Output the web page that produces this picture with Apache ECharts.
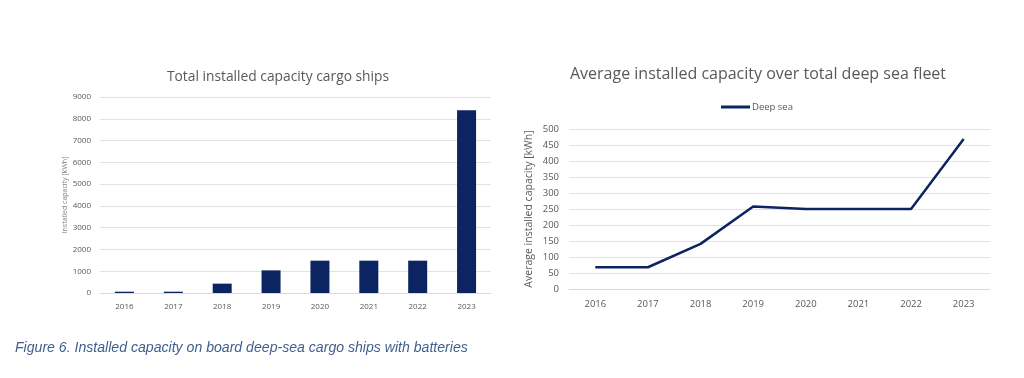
<!DOCTYPE html>
<html><head><meta charset="utf-8">
<script src="https://cdn.jsdelivr.net/npm/echarts@6/dist/echarts.min.js"></script>
<style>html,body{margin:0;padding:0;background:#fff}#c{width:1024px;height:378px}</style>
</head><body><div id="c"></div>
<script>
const years = ['2016','2017','2018','2019','2020','2021','2022','2023'];
const totalCapacity = [60, 60, 430, 1040, 1485, 1485, 1485, 8390];
const avgCapacity = [68, 68, 141, 258, 250, 250, 250, 469];
const leftTitle = 'Total installed capacity cargo ships';
const rightTitle = 'Average installed capacity over total deep sea fleet';
const caption = 'Figure 6. Installed capacity on board deep-sea cargo ships with batteries';
const navy = '#0c2461';
const grey = '#595959';
const chart = echarts.init(document.getElementById('c'), null, {renderer:'canvas'});
chart.setOption({
  animation:false,
  title:[
    {text:leftTitle, left:273, top:65, textAlign:'center', textStyle:{fontFamily:'Open Sans', fontSize:13.8, fontWeight:'normal', color:grey}},
    {text:rightTitle, left:753, top:61, textAlign:'center', textStyle:{fontFamily:'Open Sans', fontSize:16, fontWeight:'normal', color:grey}},
    {text:caption, left:10, top:336, textStyle:{fontFamily:'Liberation Sans', fontSize:14.1, fontStyle:'italic', fontWeight:'normal', color:'#3f5f8f'}}
  ],
  legend:{data:['Deep sea'], left:716, top:97, itemWidth:29, itemHeight:3, itemGap:0, icon:'rect',
    textStyle:{fontFamily:'Open Sans', fontSize:9.5, color:grey, padding:[0,0,0,-3]}},
  grid:[
    {left:100, top:97, width:391, height:196},
    {left:569, top:129, width:421, height:160}
  ],
  xAxis:[
    {type:'category', gridIndex:0, data:years, axisTick:{show:false}, axisLine:{lineStyle:{color:'#d9d9d9'}},
     axisLabel:{fontFamily:'Open Sans', fontSize:8, color:grey, margin:10}},
    {type:'category', gridIndex:1, data:years, axisTick:{show:false}, axisLine:{lineStyle:{color:'#d9d9d9'}},
     axisLabel:{fontFamily:'Open Sans', fontSize:9.5, color:grey, margin:10}}
  ],
  yAxis:[
    {type:'value', gridIndex:0, min:0, max:9000, interval:1000, axisLine:{show:false}, axisTick:{show:false},
     splitLine:{lineStyle:{color:'#e3e3e3'}}, axisLabel:{fontFamily:'Open Sans', fontSize:8, color:grey, margin:9, formatter:v=>String(v)},
     name:'Installed capacity [kWh]', nameLocation:'middle', nameGap:31, nameRotate:90,
     nameTextStyle:{fontFamily:'Open Sans', fontSize:7, color:'#7f7f7f'}},
    {type:'value', gridIndex:1, min:0, max:500, interval:50, axisLine:{show:false}, axisTick:{show:false},
     splitLine:{lineStyle:{color:'#e3e3e3'}}, axisLabel:{fontFamily:'Open Sans', fontSize:9.5, color:grey, margin:10},
     name:'Average installed capacity [kWh]', nameLocation:'middle', nameGap:34, nameRotate:90,
     nameTextStyle:{fontFamily:'Open Sans', fontSize:10.5, color:grey}}
  ],
  series:[
    {type:'bar', xAxisIndex:0, yAxisIndex:0, data:totalCapacity, barWidth:19, itemStyle:{color:navy}},
    {name:'Deep sea', type:'line', xAxisIndex:1, yAxisIndex:1, data:avgCapacity, showSymbol:false, symbol:'none',
     lineStyle:{color:navy, width:2.5}, itemStyle:{color:navy}}
  ]
});
</script></body></html>
